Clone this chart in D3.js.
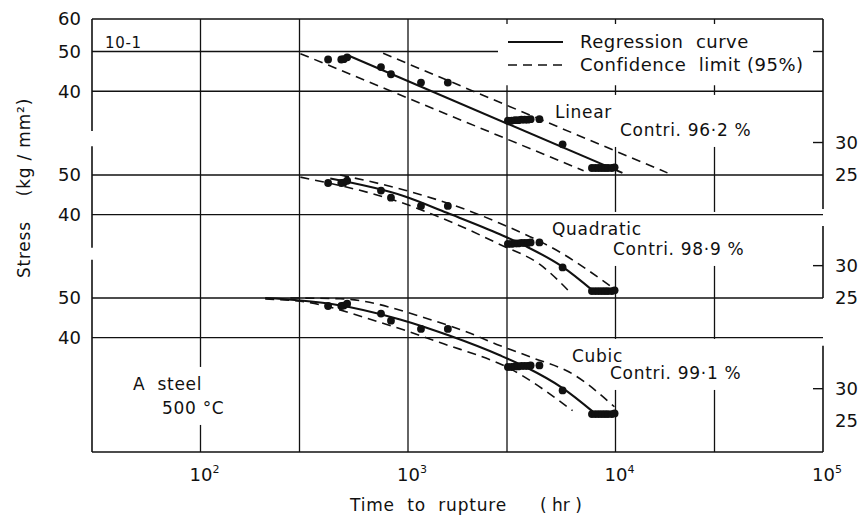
<!DOCTYPE html>
<html>
<head>
<meta charset="utf-8">
<script src="https://cdn.jsdelivr.net/npm/d3@7"></script>
<style>
  body { margin: 0; background: #fff; }
  text { font-family: "DejaVu Sans", sans-serif; fill: #111; white-space: pre; }
</style>
</head>
<body>
<svg id="chart" width="866" height="518"></svg>
<script>
// rupture tests (same points in every panel): time (hr) and stress (kg/mm2)
const hours = [412, 477, 490, 509, 741, 828, 1155, 1556,
  3030, 3150, 3280, 3400, 3520, 3650, 3780, 3900, 4300,
  5560,
  7700, 8000, 8300, 8600, 8900, 9200, 9600, 9900];
const stress = [47.8, 47.8, 47.9, 48.4, 45.8, 44.0, 42.0, 42.0,
  33.9, 33.9, 34.0, 34.0, 34.1, 34.1, 34.1, 34.2, 34.2,
  29.7,
  26.0, 26.0, 26.0, 26.0, 26.0, 26.0, 26.0, 26.1];

// regression curves and 95% limits, [hours, stress]
const linearFit = [[509, 49.0], [10800, 25.3]];
const linearUpper = [[759, 49.5], [17800, 25.3]];
const linearLower = [[303, 49.4], [7020, 25.6]];

const quadFit = [[422, 49.0], [968, 44.3], [1540, 40.4], [2770, 35.8], [3730, 33.4], [5560, 29.8], [7750, 26.1]];
const quadUpper = [[471, 50.0], [968, 45.9], [1986, 40.8], [2770, 38.1], [5380, 32.4], [9880, 26.3]];
const quadLower = [[303, 49.4], [916, 42.9], [1645, 38.2], [2770, 33.8], [4320, 30.2], [6140, 25.6]];

const cubicFit = [[205, 50.0], [422, 48.4], [916, 44.3], [1592, 40.4], [2770, 36.2], [3730, 33.8], [5560, 30.1], [7750, 26.4]];
const cubicUpper = [[271, 50.0], [471, 49.8], [1276, 44.3], [1923, 41.3], [2680, 38.5], [3990, 35.7], [6210, 32.6], [9880, 27.1]];
const cubicLower = [[205, 49.7], [303, 49.1], [733, 43.6], [1426, 38.9], [3200, 33.3], [6210, 26.5]];

const xTicks = [100, 1000, 10000, 100000];
const xGrid = [100, 300, 1000, 3000, 10000, 30000];
const fitNames = ["Linear", "Quadratic", "Cubic"];
const contri = ["Contri. 96·2 %", "Contri. 98·9 %", "Contri. 99·1 %"];

const svg = d3.select("#chart");
const L = 92, R = 823, T = 19, B = 452;

const x = d3.scaleLog().domain([30, 1e5]).range([L, R]);

// each panel has its own stress scale, stacked one above the other
const panels = [
  { y: d3.scaleLog().domain([60, 25]).range([T, 175]),
    leftTicks: [60, 50, 40], grid: [40], rightTicks: [50, 30],
    leftSpans: [[60, 32]],
    fit: linearFit, upper: linearUpper, lower: linearLower,
    name: [555, 112], con: [620, 130] },
  { y: d3.scaleLog().domain([50, 25]).range([175, 298]),
    leftTicks: [50, 40], grid: [50, 40], rightTicks: [30],
    leftSpans: [[58.8, 33.2]],
    fit: quadFit, upper: quadUpper, lower: quadLower,
    name: [552, 229], con: [613, 249] },
  { y: d3.scaleLog().domain([50, 21]).range([298, B]),
    leftTicks: [50, 40], grid: [50, 40], rightTicks: [30],
    leftSpans: [[62, 21]],
    fit: cubicFit, upper: cubicUpper, lower: cubicLower,
    name: [572, 356], con: [610, 373] }
];
// right border pieces in pixel form, from the panel scales
const rightSpans = [
  [panels[0].y(60), panels[1].y(41.3)],
  [panels[1].y(37.5), panels[1].y(25)],
  [panels[2].y(38.2), panels[2].y(21)]
];

const ink = "#111";
const grid = svg.append("g").attr("stroke", ink).attr("stroke-width", 1.3);

// vertical grid
grid.selectAll("line.v")
  .data(xGrid)
  .join("line")
  .attr("x1", d => x(d)).attr("x2", d => x(d))
  .attr("y1", T).attr("y2", B);

// white boxes behind annotations
const boxes = svg.append("g");
const notes = svg.append("g").attr("font-size", 17).attr("letter-spacing", 0.7);

panels.forEach((p, i) => {
  notes.append("text").attr("x", p.name[0]).attr("y", p.name[1])
    .attr("dy", "0.35em").text(fitNames[i]);
  notes.append("text").attr("x", p.con[0]).attr("y", p.con[1])
    .attr("dy", "0.35em").text(contri[i]);
});
notes.append("text").attr("x", 133).attr("y", 384).attr("dy", "0.35em").text("A  steel");
notes.append("text").attr("x", 162).attr("y", 408).attr("dy", "0.35em").text("500 °C");
notes.append("text").attr("x", 105).attr("y", 43).attr("dy", "0.35em").attr("font-size", 15).text("10-1");

// box per annotation pair
const noteNodes = notes.selectAll("text").nodes();
[[0, 1], [2, 3], [4, 5], [6, 7]].forEach(([a, b]) => {
  const ba = noteNodes[a].getBBox(), bb = noteNodes[b].getBBox();
  const x0 = Math.min(ba.x, bb.x) - 5, x1 = Math.max(ba.x + ba.width, bb.x + bb.width) + 5;
  const y0 = Math.min(ba.y, bb.y) - 7, y1 = Math.max(ba.y + ba.height, bb.y + bb.height) + 7;
  boxes.append("rect").attr("x", x0).attr("y", y0)
    .attr("width", x1 - x0).attr("height", y1 - y0).attr("fill", "#fff");
});

// horizontal grid
const hgrid = svg.append("g").attr("stroke", ink).attr("stroke-width", 1.3);
panels.forEach(p => {
  hgrid.selectAll(null)
    .data(p.grid)
    .join("line")
    .attr("x1", L).attr("x2", R)
    .attr("y1", d => p.y(d)).attr("y2", d => p.y(d));
});
// 50 line of the top panel stops at the legend
hgrid.append("line").attr("x1", L).attr("x2", 498)
  .attr("y1", panels[0].y(50)).attr("y2", panels[0].y(50));

// frame: top, bottom, broken left and right borders
const frame = svg.append("g").attr("stroke", ink).attr("stroke-width", 1.6);
frame.append("line").attr("x1", L).attr("x2", R).attr("y1", T).attr("y2", T);
frame.append("line").attr("x1", L).attr("x2", R).attr("y1", B).attr("y2", B);
panels.forEach(p => {
  p.leftSpans.forEach(s => {
    frame.append("line").attr("x1", L).attr("x2", L)
      .attr("y1", Math.max(T, p.y(s[0]))).attr("y2", Math.min(B, p.y(s[1])));
  });
});
rightSpans.forEach(s => {
  frame.append("line").attr("x1", R).attr("x2", R).attr("y1", s[0]).attr("y2", s[1]);
});

// legend box
const lg = svg.append("g").attr("font-size", 18).attr("letter-spacing", 0.5);
lg.append("rect").attr("x", 498).attr("y", T + 5).attr("width", R - 503)
  .attr("height", panels[0].y(40) - T - 11).attr("fill", "#fff");
lg.append("line").attr("x1", 508).attr("x2", 563).attr("y1", 42).attr("y2", 42)
  .attr("stroke", ink).attr("stroke-width", 2);
lg.append("line").attr("x1", 508).attr("x2", 563).attr("y1", 65).attr("y2", 65)
  .attr("stroke", ink).attr("stroke-width", 1.6).attr("stroke-dasharray", "9,6");
lg.append("text").attr("x", 580).attr("y", 42).attr("dy", "0.35em")
  .text("Regression  curve");
lg.append("text").attr("x", 580).attr("y", 65).attr("dy", "0.35em")
  .text("Confidence  limit (95%)");

// right-hand ticks
const rt = svg.append("g");
panels.forEach(p => {
  rt.selectAll(null)
    .data(p.rightTicks)
    .join("line")
    .attr("x1", R - 10).attr("x2", R)
    .attr("y1", d => p.y(d)).attr("y2", d => p.y(d))
    .attr("stroke", ink).attr("stroke-width", 1.4);
  rt.selectAll(null)
    .data([30, 25])
    .join("text")
    .attr("x", R + 12).attr("y", d => p.y(d)).attr("dy", "0.35em")
    .attr("font-size", 18).text(d => d);
  // left labels
  rt.selectAll(null)
    .data(p.leftTicks)
    .join("text")
    .attr("x", 81).attr("y", d => p.y(d)).attr("dy", "0.35em")
    .attr("text-anchor", "end").attr("font-size", 18).text(d => d);
});

// curves and points
panels.forEach(p => {
  const line = d3.line()
    .x(d => x(d[0])).y(d => p.y(d[1]))
    .curve(d3.curveMonotoneX);
  const g = svg.append("g").attr("fill", "none").attr("stroke", ink);
  g.append("path").attr("d", line(p.fit)).attr("stroke-width", 2.1);
  g.append("path").attr("d", line(p.upper)).attr("stroke-width", 1.6).attr("stroke-dasharray", "9,6");
  g.append("path").attr("d", line(p.lower)).attr("stroke-width", 1.6).attr("stroke-dasharray", "9,6");

  svg.append("g").selectAll("circle")
    .data(d3.range(hours.length))
    .join("circle")
    .attr("cx", i => x(hours[i]))
    .attr("cy", i => p.y(stress[i]))
    .attr("r", 3.9)
    .attr("fill", ink);
});

// x tick labels
const xl = svg.append("g").attr("font-size", 18);
xTicks.forEach(v => {
  const t = xl.append("text").attr("x", x(v) - 11).attr("y", 481);
  t.append("tspan").text("10");
  t.append("tspan").attr("dy", -8).attr("font-size", 11).text(Math.round(Math.log10(v)));
});

// axis titles
svg.append("text").attr("x", 350).attr("y", 511).attr("font-size", 17)
  .attr("letter-spacing", 0.8).text("Time  to  rupture");
svg.append("text").attr("x", 540).attr("y", 511).attr("font-size", 17).text("( hr )");
svg.append("text")
  .attr("transform", "translate(30,188) rotate(-90)")
  .attr("text-anchor", "middle").attr("font-size", 17).attr("letter-spacing", 0.8)
  .text("Stress    (kg / mm²)");
</script>
</body>
</html>
